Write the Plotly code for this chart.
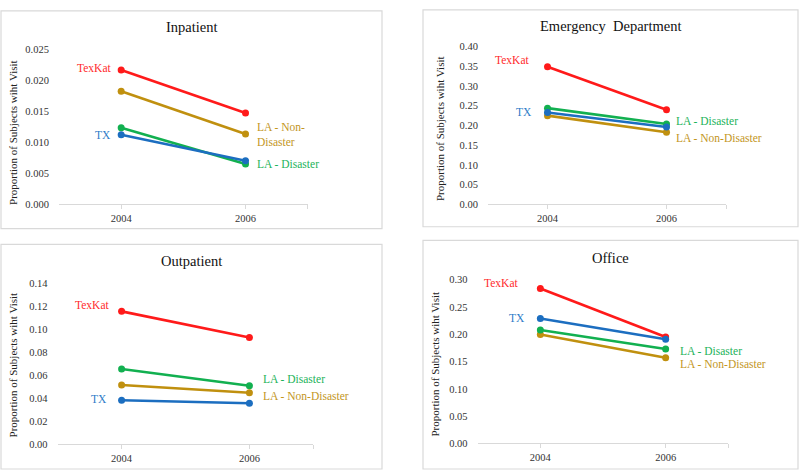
import plotly.graph_objects as go

# ---------------- data ----------------
years = [2004, 2006]
series_names = ["TexKat", "LA - Non-Disaster", "LA - Disaster", "TX"]
panel_titles = ["Inpatient", "Emergency  Department", "Outpatient", "Office"]
y_title = "Proportion of Subjects wiht Visit"

inpatient_texkat = [0.0216, 0.0147]
inpatient_la_non = [0.0182, 0.0113]
inpatient_la_dis = [0.0123, 0.0065]
inpatient_tx = [0.0112, 0.0070]

emergency_texkat = [0.349, 0.240]
emergency_la_non = [0.225, 0.183]
emergency_la_dis = [0.244, 0.204]
emergency_tx = [0.233, 0.196]

outpatient_texkat = [0.1154, 0.0927]
outpatient_la_non = [0.0513, 0.0445]
outpatient_la_dis = [0.0652, 0.0507]
outpatient_tx = [0.0380, 0.0354]

office_texkat = [0.284, 0.195]
office_la_non = [0.1995, 0.157]
office_la_dis = [0.208, 0.173]
office_tx = [0.229, 0.191]

y_ranges = [[0, 0.025], [0, 0.40], [0, 0.14], [0, 0.30]]
y_dticks = [0.005, 0.05, 0.02, 0.05]
y_formats = [".3f", ".2f", ".2f", ".2f"]

panels = [
    [inpatient_texkat, inpatient_la_non, inpatient_la_dis, inpatient_tx],
    [emergency_texkat, emergency_la_non, emergency_la_dis, emergency_tx],
    [outpatient_texkat, outpatient_la_non, outpatient_la_dis, outpatient_tx],
    [office_texkat, office_la_non, office_la_dis, office_tx],
]

# ---------------- style ----------------
W, H = 800, 476
colors = {"TexKat": "#FF1A1A", "LA - Non-Disaster": "#C0900F",
          "LA - Disaster": "#12B050", "TX": "#1C6EC0"}
text_colors = {"TexKat": "#FF2A2A", "LA - Non-Disaster": "#C3961E",
               "LA - Disaster": "#1DB35A", "TX": "#2E7DC8"}
FONT = "Liberation Serif"

# plot areas in pixels: x0, x1, y_top, y_bottom (y measured from top)
plot_px = [(59, 307.7, 45, 204), (488, 726, 42.7, 204),
           (57.7, 313.3, 284.7, 449.3), (477.7, 728.3, 281.3, 448.7)]
# panel frames in pixels: x0, x1, y_top, y_bottom
frame_px = [(1, 382, 6, 229), (423, 798, 5, 227),
            (1, 382, 245, 475), (423, 798, 241, 475)]
title_px = [(191.5, 23), (610.5, 21), (191.5, 262), (610.5, 258.5)]
ytitle_px = [(13, 131), (440, 127), (13, 369), (435, 367)]

# label placement: (series, year index, xanchor, xshift, yshift, text)
labels = [
    [("TexKat", 0, "right", -8, 2, "TexKat"),
     ("TX", 0, "right", -8, 0, "TX"),
     ("LA - Non-Disaster", 1, "left", 9, 0, "LA - Non-<br>Disaster"),
     ("LA - Disaster", 1, "left", 9, 0, "LA - Disaster")],
    [("TexKat", 0, "right", -17, 7, "TexKat"),
     ("TX", 0, "right", -14, 1, "TX"),
     ("LA - Disaster", 1, "left", 7, 3, "LA - Disaster"),
     ("LA - Non-Disaster", 1, "left", 7, -6, "LA - Non-Disaster")],
    [("TexKat", 0, "right", -11, 6, "TexKat"),
     ("TX", 0, "right", -13, 1, "TX"),
     ("LA - Disaster", 1, "left", 12, 7, "LA - Disaster"),
     ("LA - Non-Disaster", 1, "left", 12, -3, "LA - Non-Disaster")],
    [("TexKat", 0, "right", -20, 6, "TexKat"),
     ("TX", 0, "right", -13, 0, "TX"),
     ("LA - Disaster", 1, "left", 12, -2, "LA - Disaster"),
     ("LA - Non-Disaster", 1, "left", 12, -6, "LA - Non-Disaster")],
]

fig = go.Figure()
layout = dict(width=W, height=H, margin=dict(l=0, r=0, t=0, b=0),
              paper_bgcolor="white", plot_bgcolor="white", showlegend=False,
              font=dict(family=FONT, color="#222222"))
annotations = []
shapes = []

for i, vals in enumerate(panels):
    k = "" if i == 0 else str(i + 1)
    xa, ya = "x" + k, "y" + k
    for name, v in zip(series_names, vals):
        fig.add_trace(go.Scatter(
            x=years, y=v, mode="lines+markers", name=name,
            line=dict(color=colors[name], width=2.6),
            marker=dict(color=colors[name], size=7),
            xaxis=xa, yaxis=ya, hoverinfo="skip"))
    x0, x1, yt, yb = plot_px[i]
    layout["xaxis" + k] = dict(
        domain=[x0 / W, x1 / W], range=[2003, 2007], anchor=ya,
        tickvals=[2004, 2006, 2007], ticktext=["2004", "2006", ""],
        showline=True, linecolor="#D9D9D9", linewidth=1,
        ticks="outside", ticklen=4, tickcolor="#D9D9D9",
        showgrid=False, zeroline=False, fixedrange=True,
        tickfont=dict(family=FONT, size=10.5, color="#333333"))
    layout["yaxis" + k] = dict(
        domain=[1 - yb / H, 1 - yt / H], range=y_ranges[i], anchor=xa,
        dtick=y_dticks[i], tick0=0, tickformat=y_formats[i],
        showline=False, showgrid=False, zeroline=False,
        ticks="outside", ticklen=7, tickcolor="rgba(0,0,0,0)",
        fixedrange=True,
        tickfont=dict(family=FONT, size=10.5, color="#333333"))
    # frame
    fx0, fx1, fyt, fyb = frame_px[i]
    shapes.append(dict(type="rect", xref="paper", yref="paper",
                       x0=fx0 / W, x1=fx1 / W, y0=1 - fyb / H, y1=1 - fyt / H,
                       line=dict(color="#D9D9D9", width=1.2), layer="below"))
    # title
    tx, ty = title_px[i]
    annotations.append(dict(text=panel_titles[i], xref="paper", yref="paper",
                            x=tx / W, y=1 - ty / H, showarrow=False,
                            xanchor="center", yanchor="middle",
                            font=dict(family=FONT, size=14.5, color="#111111")))
    # y title
    ax, ay = ytitle_px[i]
    annotations.append(dict(text=y_title, xref="paper", yref="paper",
                            x=ax / W, y=1 - ay / H, showarrow=False, textangle=-90,
                            xanchor="center", yanchor="middle",
                            font=dict(family=FONT, size=11, color="#222222")))
    # series labels
    for (name, yi, anchor, xs, ys, txt) in labels[i]:
        v = vals[series_names.index(name)][yi]
        annotations.append(dict(text=txt, x=years[yi], y=v, xref=xa, yref=ya,
                                showarrow=False, xanchor=anchor, yanchor="middle",
                                align="left", xshift=xs, yshift=ys,
                                font=dict(family=FONT, size=11.5,
                                          color=text_colors[name])))

layout["annotations"] = annotations
layout["shapes"] = shapes
fig.update_layout(**layout)
fig.write_html("out.html",
               config={"displayModeBar": False, "staticPlot": True},
               post_script="document.body.style.margin='0';"
                           "document.body.style.padding='0';"
                           "document.body.style.overflow='hidden';")
